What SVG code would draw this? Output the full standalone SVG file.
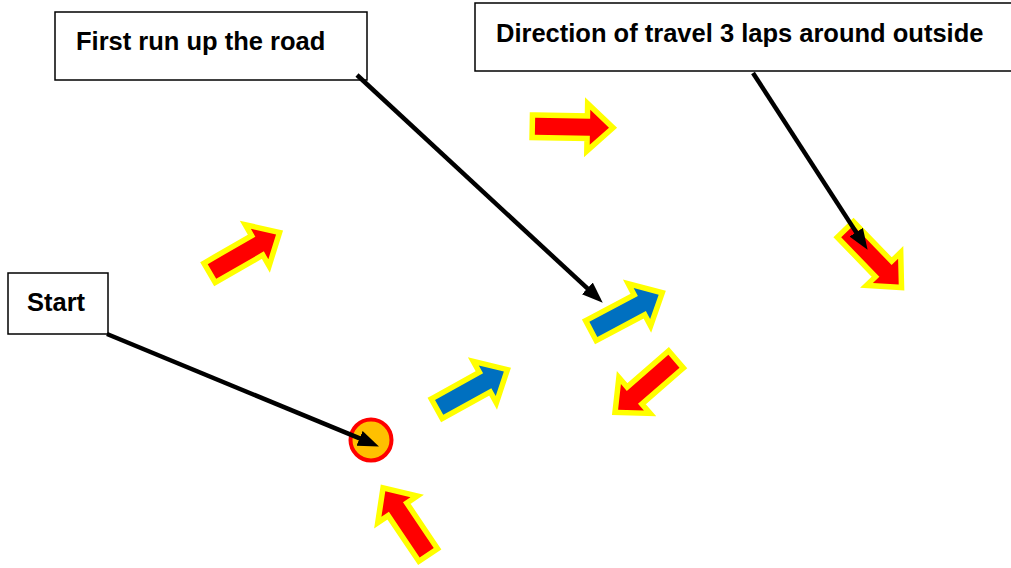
<svg xmlns="http://www.w3.org/2000/svg" width="1011" height="568" viewBox="0 0 1011 568">
  <style>
    .box { fill: #ffffff; stroke: #000000; stroke-width: 1.5; }
    .lbl { font-family: "Liberation Sans", Arial, sans-serif; font-weight: bold; font-size: 25.5px; fill: #000000; }
    .arr { stroke: #ffff00; stroke-width: 11; stroke-linejoin: miter; stroke-miterlimit: 10; paint-order: stroke; }
    .red { fill: #ff0000; }
    .blue { fill: #0070c0; }
    .conn { stroke: #000000; stroke-width: 4.5; fill: none; marker-end: url(#ah); }
  </style>
  <defs>
    <marker id="ah" markerUnits="userSpaceOnUse" markerWidth="22" markerHeight="18" refX="10" refY="8" orient="auto">
      <path d="M0,0 L21,8 L0,16 Z" fill="#000000"/>
    </marker>
    <path id="arrow" d="M-37,-8.5 L18,-8.5 L18,-17.5 L37,0 L18,17.5 L18,8.5 L-37,8.5 Z"/>
  </defs>
  <rect width="1011" height="568" fill="#ffffff"/>

  <g id="box-first-run">
    <rect class="box" x="55" y="12" width="312" height="68"/>
    <text class="lbl" x="76" y="50">First run up the road</text>
  </g>
  <g id="box-direction">
    <rect class="box" x="475" y="3" width="540" height="68"/>
    <text class="lbl" x="496" y="42">Direction of travel 3 laps around outside</text>
  </g>
  <g id="box-start">
    <rect class="box" x="8" y="273" width="100" height="61"/>
    <text class="lbl" x="27" y="311">Start</text>
  </g>

  <g id="arrow-top">
    <use href="#arrow" class="arr red" transform="translate(572,127) rotate(1)"/>
  </g>
  <g id="arrow-left">
    <use href="#arrow" class="arr red" transform="translate(244,253) rotate(-30)"/>
  </g>
  <g id="arrow-blue-1">
    <use href="#arrow" class="arr blue" transform="translate(471.5,389.5) rotate(-29)"/>
  </g>
  <g id="arrow-blue-2">
    <use href="#arrow" class="arr blue" transform="translate(626,312) rotate(-28)"/>
  </g>
  <g id="arrow-down-left">
    <use href="#arrow" class="arr red" transform="translate(646,385.5) rotate(139)"/>
  </g>
  <g id="arrow-down-right">
    <use href="#arrow" class="arr red" transform="translate(873,258) rotate(46)"/>
  </g>
  <g id="arrow-bottom">
    <use href="#arrow" class="arr red" transform="translate(406,522) rotate(-124)"/>
  </g>
  <g id="start-point">
    <circle cx="371" cy="440" r="20.5" fill="#ffc000" stroke="#ff0000" stroke-width="4"/>
  </g>

  <g id="connectors">
    <line class="conn" x1="107" y1="334" x2="368.8" y2="442.2"/>
    <line class="conn" x1="357" y1="75" x2="594.7" y2="295.2"/>
    <line class="conn" x1="753" y1="73" x2="861.6" y2="240.6"/>
  </g>
</svg>
